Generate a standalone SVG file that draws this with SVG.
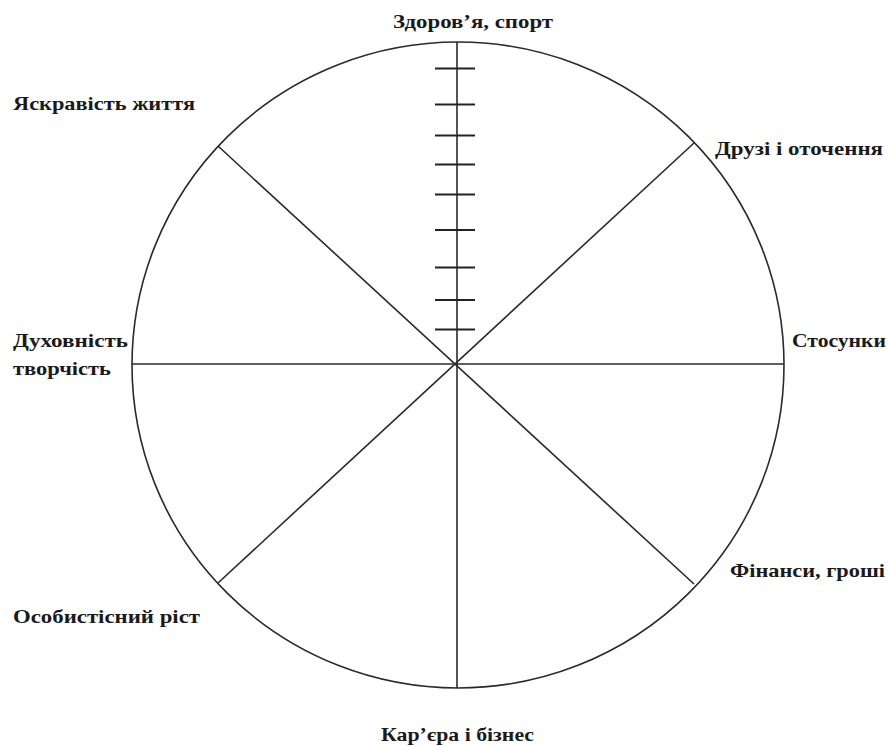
<svg xmlns="http://www.w3.org/2000/svg" width="888" height="746" viewBox="0 0 888 746">
<style>
.l{stroke:#2a2a2a;stroke-width:1.6;fill:none}
.t{stroke:#222;stroke-width:2;fill:none}
text{font-family:"Liberation Serif","DejaVu Serif",serif;font-weight:bold;font-size:19px;fill:#1a1a1a}
</style>
<rect width="888" height="746" fill="#fff"/>
<g id="wheel">
<ellipse class="l" cx="458" cy="365" rx="326" ry="323"/>
</g>
<g id="connectors">
<line class="l" x1="457" y1="42" x2="457" y2="688"/>
<line class="l" x1="132" y1="364" x2="784" y2="364"/>
<line class="l" x1="218" y1="146" x2="694" y2="584"/>
<line class="l" x1="694" y1="143" x2="218" y2="583"/>
</g>
<g id="ticks">
<line class="t" x1="435" y1="68.5" x2="475" y2="68.5"/>
<line class="t" x1="435" y1="104.5" x2="475" y2="104.5"/>
<line class="t" x1="435" y1="135.5" x2="475" y2="135.5"/>
<line class="t" x1="435" y1="164.5" x2="475" y2="164.5"/>
<line class="t" x1="435" y1="194.5" x2="475" y2="194.5"/>
<line class="t" x1="435" y1="230" x2="475" y2="230"/>
<line class="t" x1="435" y1="267.5" x2="475" y2="267.5"/>
<line class="t" x1="435" y1="300" x2="475" y2="300"/>
<line class="t" x1="435" y1="329.5" x2="475" y2="329.5"/>
</g>
<g id="label-health"><text x="393" y="28" textLength="160" lengthAdjust="spacingAndGlyphs">Здоров’я, спорт</text></g>
<g id="label-brightness"><text x="13" y="110" textLength="182" lengthAdjust="spacingAndGlyphs">Яскравість життя</text></g>
<g id="label-friends"><text x="715" y="155" textLength="168" lengthAdjust="spacingAndGlyphs">Друзі і оточення</text></g>
<g id="label-spirit"><text x="13" y="347" textLength="115" lengthAdjust="spacingAndGlyphs">Духовність</text><text x="13" y="375" textLength="98" lengthAdjust="spacingAndGlyphs">творчість</text></g>
<g id="label-relations"><text x="792" y="347" textLength="94" lengthAdjust="spacingAndGlyphs">Стосунки</text></g>
<g id="label-growth"><text x="13" y="623" textLength="187" lengthAdjust="spacingAndGlyphs">Особистісний ріст</text></g>
<g id="label-finance"><text x="730" y="577" textLength="155" lengthAdjust="spacingAndGlyphs">Фінанси, гроші</text></g>
<g id="label-career"><text x="381" y="741" textLength="153" lengthAdjust="spacingAndGlyphs">Кар’єра і бізнес</text></g>
</svg>
